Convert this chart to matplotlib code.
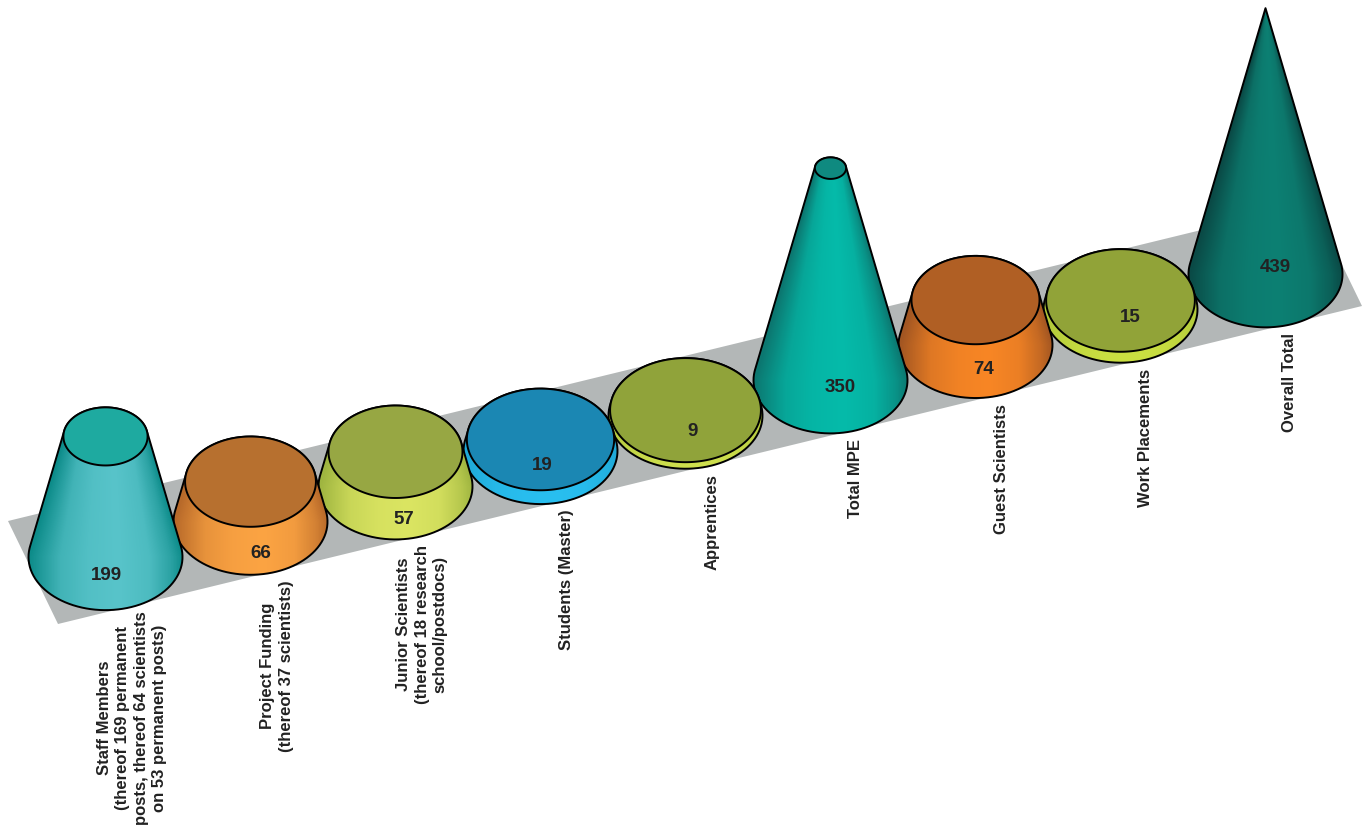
import numpy as np
import matplotlib
matplotlib.use("Agg")
import matplotlib.pyplot as plt
from matplotlib.colors import LinearSegmentedColormap, to_rgb
from matplotlib.patches import Polygon, PathPatch
from matplotlib.path import Path

# ---- data ----
categories = [
    "Staff Members\n(thereof 169 permanent\nposts, thereof 64 scientists\non 53 permanent posts)",
    "Project Funding\n(thereof 37 scientists)",
    "Junior Scientists\n(thereof 18 research\nschool/postdocs)",
    "Students (Master)",
    "Apprentices",
    "Total MPE",
    "Guest Scientists",
    "Work Placements",
    "Overall Total",
]
values = [199, 66, 57, 19, 9, 350, 74, 15, 439]

# ---- styles ----
edge_colors = ["#0d8c8a", "#b86a2a", "#9fb540", "#1fa8d6", "#b4c93f", "#0c7770", "#a25622", "#b0c83a", "#0a4a46"]
mid_colors = ["#58c4ca", "#fca443", "#dbe562", "#29bff0", "#cfe04e", "#05bbaa", "#f88625", "#cbe042", "#0d8073"]
top_colors = ["#1eaaa0", "#b7702f", "#97a743", "#1b87b3", "#90a33a", "#0f8a80", "#b05f24", "#91a338", "#0d7468"]
FLOOR = "#b3b7b7"
INK = "#222222"

# ---- layout (pixels of the page) ----
X0, STEP_X = 105.5, 145.0
Y0, STEP_Y = 557.0, -35.35
A = 77.0            # base half width
K = 0.69            # ellipse flattening
PX_PER_UNIT = 0.606
VMAX = max(values)
value_dx = [0.5, 10, 8, 2, 7, 10, 8, 10, 10]
value_y = [575, 553, 520, 466, 432, 387, 369, 318, 267]
label_x = [132, 277, 422, 567, 712, 856, 1001, 1146, 1290]
label_y = [718, 666, 624, 580, 522, 479, 469, 438, 383]

fig = plt.figure(figsize=(13.65, 8.25), dpi=100, facecolor="white")
ax = fig.add_axes([0, 0, 1, 1])
ax.set_xlim(0, 1365)
ax.set_ylim(825, 0)
ax.axis("off")

ax.add_patch(Polygon([(8, 521), (58, 624), (1362, 306), (1312, 203)],
                     closed=True, fc=FLOOR, ec="none", zorder=1))


def arc(cx, cy, a, b, t0, t1, n=120):
    t = np.linspace(t0, t1, n)
    return np.column_stack([cx + a * np.cos(t), cy + b * np.sin(t)])


def mix(c1, c2, w):
    return tuple((1 - w) * np.array(to_rgb(c1)) + w * np.array(to_rgb(c2)))


n = len(values)
H_FULL = PX_PER_UNIT * VMAX
B = K * A
T = np.arcsin(B / H_FULL)  # tangent angle of the apex lines on the ellipse

for i, (v, e, m, tc) in enumerate(zip(values, edge_colors, mid_colors, top_colors)):
    z = 10 + (n - i) * 3
    cx = X0 + i * STEP_X
    cy = Y0 + i * STEP_Y
    frac = 1 - v / VMAX
    r, rb = A * frac, B * frac
    ty = cy - PX_PER_UNIT * v

    lower = arc(cx, cy, A, B, -T, np.pi + T)
    if r > 0.5:
        upper = arc(cx, ty, r, rb, np.pi + T, 2 * np.pi - T, 60)
    else:
        upper = np.array([[cx, ty]])
    path = Path(np.vstack([lower, upper, lower[:1]]))

    # shading that follows the taper of the cone
    cmap = LinearSegmentedColormap.from_list(
        "c", [(0, e), (0.2, mix(e, m, 0.7)), (0.38, mix(e, m, 0.92)), (0.58, m),
              (0.78, mix(e, m, 0.85)), (0.92, mix(e, m, 0.4)), (1, e)])
    y0, y1 = ty - 12, cy + B + 3
    xs = np.arange(cx - A - 2, cx + A + 2, 1.0)
    ys = np.arange(y0, y1, 1.0)
    gx, gy = np.meshgrid(xs, ys)
    t_frac = np.clip((cy - gy) / H_FULL, 0, 0.995)
    half = A * (1 - t_frac)
    u = np.clip((gx - cx) / half, -1, 1)
    im = ax.imshow((u + 1) / 2, cmap=cmap, vmin=0, vmax=1,
                   extent=(xs[0], xs[-1] + 1, ys[-1] + 1, ys[0]),
                   aspect="auto", zorder=z, interpolation="bilinear")
    clip = PathPatch(path, transform=ax.transData, fc="none", ec="none")
    ax.add_patch(clip)
    im.set_clip_path(clip)
    ax.add_patch(PathPatch(path, fc="none", ec="black", lw=1.4, zorder=z + 1, joinstyle="round"))
    if r > 0.5:
        ax.add_patch(PathPatch(Path(arc(cx, ty, r, rb, 0, 2 * np.pi, 200)),
                               fc=tc, ec="black", lw=1.4, zorder=z + 2))

ax.set_xlim(0, 1365)
ax.set_ylim(825, 0)

for i, v in enumerate(values):
    ax.text(X0 + i * STEP_X + value_dx[i], value_y[i], str(v), ha="center", va="center",
            fontsize=13.5, fontweight="bold", family="Liberation Sans", color=INK, zorder=100)

for c, lx, ly in zip(categories, label_x, label_y):
    ax.text(lx, ly, c, rotation=90, ha="center", va="center", multialignment="center",
            fontsize=12, fontweight="bold", family="Liberation Sans", color=INK,
            linespacing=1.28, zorder=100, clip_on=False)

fig.savefig("out.png", dpi=100, facecolor="white")
